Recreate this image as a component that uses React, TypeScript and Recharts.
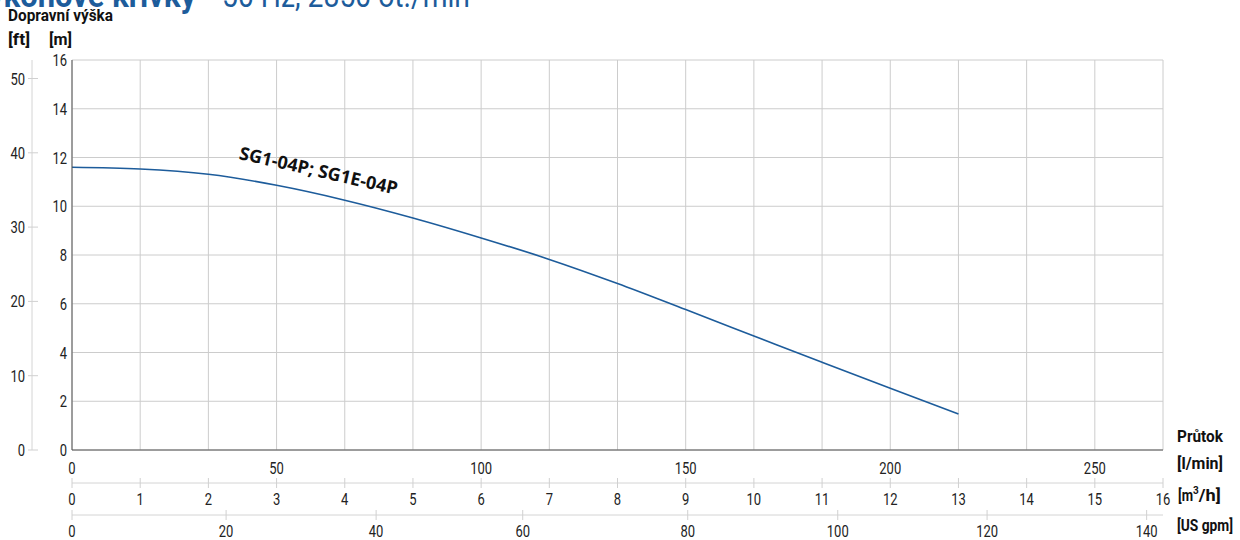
import React from "react";
import {
  LineChart,
  Line,
  XAxis,
  YAxis,
  CartesianGrid,
  ReferenceDot,
} from "recharts";

// flow in m3/h and head in m
const flowM3h = [0, 1, 2, 3, 4, 5, 6, 7, 8, 9, 10, 11, 12, 13];
const headM = [11.6, 11.53, 11.31, 10.86, 10.25, 9.52, 8.7, 7.82, 6.83, 5.76, 4.68, 3.6, 2.53, 1.48];

const mTicks = [0, 2, 4, 6, 8, 10, 12, 14, 16];
const ftTicks = [0, 10, 20, 30, 40, 50];
const lminTicks = [0, 50, 100, 150, 200, 250];
const m3hTicks = [0, 1, 2, 3, 4, 5, 6, 7, 8, 9, 10, 11, 12, 13, 14, 15, 16];
// US gpm labels and where they sit on the m3/h scale in the original
const gpmLabels = [0, 20, 40, 60, 80, 100, 120, 140];
const gpmTickPos = [0, 2.26, 4.46, 6.61, 9.03, 11.23, 13.42, 15.76];

const seriesName = "SG1-04P; SG1E-04P";

const data = flowM3h.map((q, i) => ({ q, h: headM[i] }));

const FONT = "Roboto, 'Noto Sans', sans-serif";
const BLUE = "#1d5c9b";

// condensed-looking number text: squeeze glyphs to a fixed width per char
const Num = ({ x, y, anchor, value }: any) => {
  const s = String(value);
  return (
    <text
      x={x}
      y={y}
      textAnchor={anchor}
      fontSize={17}
      fontFamily={FONT}
      fill="#222"
      textLength={s.length * 7.3}
      lengthAdjust="spacingAndGlyphs"
    >
      {s}
    </text>
  );
};

const LeftTick = (props: any) => {
  const { x, y, payload } = props;
  return <Num x={x - 5} y={y + 6} anchor="end" value={payload.value} />;
};

const FtTick = (props: any) => {
  const { x, y, payload } = props;
  return (
    <g>
      <line x1={x - 4} x2={x + 6} y1={y} y2={y} stroke="#d0d0d0" />
      <Num x={x - 7} y={y + 6} anchor="end" value={payload.value} />
    </g>
  );
};

const LminTick = (props: any) => {
  const { x, y, payload } = props;
  return <Num x={x} y={y + 24} anchor="middle" value={payload.value} />;
};

const CrossTick = (props: any) => {
  const { x, y, payload, labels, positions } = props;
  let label = payload.value;
  if (labels && positions) {
    const idx = positions.indexOf(payload.value);
    label = idx >= 0 ? labels[idx] : "";
  }
  return (
    <g>
      <line x1={x} x2={x} y1={y - 5} y2={y + 5} stroke="#d0d0d0" />
      <Num x={x} y={y + 22} anchor="middle" value={label} />
    </g>
  );
};

const SeriesLabel = (props: any) => {
  const { viewBox } = props;
  const cx = viewBox.x;
  const cy = viewBox.y;
  return (
    <text
      x={cx}
      y={cy}
      textAnchor="middle"
      dominantBaseline="middle"
      transform={`rotate(12.8 ${cx} ${cy})`}
      fontSize={18}
      fontWeight="bold"
      fontFamily="'Open Sans', sans-serif"
      fill="#111"
    >
      {seriesName}
    </text>
  );
};

const Lbl = ({ x, y, w, children }: any) => (
  <text
    x={x}
    y={y}
    fontFamily={FONT}
    fontWeight="bold"
    fontSize={17}
    fill="#111"
    textLength={w}
    lengthAdjust="spacingAndGlyphs"
  >
    {children}
  </text>
);

export default function App() {
  return (
    <div style={{ position: "absolute", left: 0, top: 0, width: 1240, height: 540 }}>
      <LineChart
        width={1240}
        height={540}
        data={data}
        margin={{ top: 60, right: 77, bottom: 0, left: 0 }}
      >
        <CartesianGrid xAxisId="b_q" yAxisId="a_m" stroke="#cccccc" />
        <XAxis
          xAxisId="a_lmin"
          type="number"
          dataKey="q"
          domain={[0, 266.667]}
          ticks={lminTicks}
          interval={0}
          height={33}
          axisLine={{ stroke: "#555" }}
          tickLine={false}
          tickSize={0}
          tickMargin={0}
          tick={<LminTick />}
          allowDataOverflow
        />
        <XAxis
          xAxisId="b_q"
          type="number"
          dataKey="q"
          domain={[0, 16]}
          ticks={m3hTicks}
          interval={0}
          height={32}
          axisLine={{ stroke: "#d4d4d4" }}
          tickLine={false}
          tickSize={0}
          tickMargin={0}
          tick={<CrossTick />}
        />
        <XAxis
          xAxisId="c_gpm"
          type="number"
          dataKey="q"
          domain={[0, 16]}
          ticks={gpmTickPos}
          interval={0}
          height={25}
          axisLine={{ stroke: "#d4d4d4" }}
          tickLine={false}
          tickSize={0}
          tickMargin={0}
          tick={<CrossTick labels={gpmLabels} positions={gpmTickPos} />}
        />
        <YAxis
          yAxisId="a_m"
          type="number"
          domain={[0, 16]}
          ticks={mTicks}
          interval={0}
          width={40}
          axisLine={{ stroke: "#555" }}
          tickLine={false}
          tickSize={0}
          tickMargin={0}
          tick={<LeftTick />}
        />
        <YAxis
          yAxisId="b_ft"
          type="number"
          domain={[0, 52.49]}
          ticks={ftTicks}
          interval={0}
          width={32}
          axisLine={{ stroke: "#d4d4d4" }}
          tickLine={false}
          tickSize={0}
          tickMargin={0}
          tick={<FtTick />}
          allowDataOverflow
        />
        <Line
          xAxisId="b_q"
          yAxisId="a_m"
          type="monotone"
          dataKey="h"
          stroke={BLUE}
          strokeWidth={1.6}
          dot={false}
          isAnimationActive={false}
        />
        <ReferenceDot
          xAxisId="b_q"
          yAxisId="a_m"
          x={3.61}
          y={11.4}
          r={0}
          stroke="none"
          fill="none"
          label={<SeriesLabel />}
        />
      </LineChart>
      <svg
        width={1240}
        height={540}
        style={{ position: "absolute", left: 0, top: 0, pointerEvents: "none" }}
      >
        <text
          x={-32}
          y={7}
          fontFamily={FONT}
          fontWeight="bold"
          fontSize={34}
          fill={BLUE}
          textLength={228}
          lengthAdjust="spacingAndGlyphs"
        >
          Výkonové křivky
        </text>
        <text
          x={222}
          y={7}
          fontFamily={FONT}
          fontSize={34}
          fill={BLUE}
          textLength={248}
          lengthAdjust="spacingAndGlyphs"
        >
          50 Hz, 2850 ot./min
        </text>
        <Lbl x={8} y={21} w={105}>Dopravní výška</Lbl>
        <Lbl x={8} y={45} w={22}>[ft]</Lbl>
        <Lbl x={49} y={45} w={23}>[m]</Lbl>
        <Lbl x={1177} y={442} w={46}>Průtok</Lbl>
        <Lbl x={1177} y={469} w={46}>[l/min]</Lbl>
        <text x={1178} y={501} fontFamily={FONT} fontWeight="bold" fontSize={17} fill="#111">
          <tspan textLength={15} lengthAdjust="spacingAndGlyphs">[m</tspan>
          <tspan dy={-7} fontSize={10}>3</tspan>
          <tspan dy={7} textLength={22} lengthAdjust="spacingAndGlyphs">/h]</tspan>
        </text>
        <Lbl x={1177} y={531} w={56}>[US gpm]</Lbl>
      </svg>
    </div>
  );
}
